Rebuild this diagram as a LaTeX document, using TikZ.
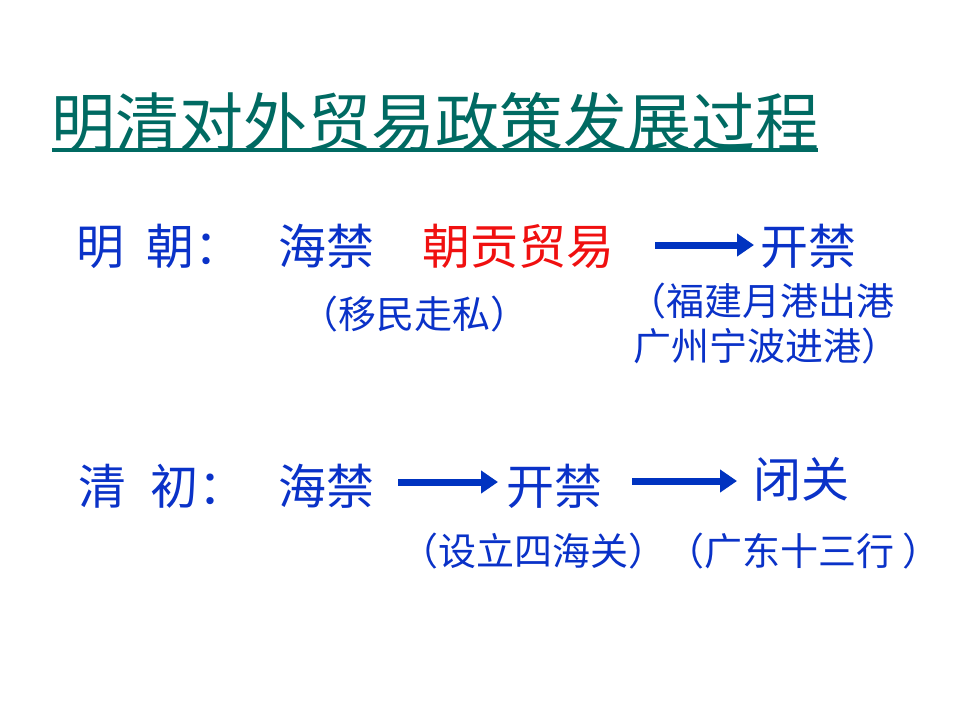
\documentclass[tikz,border=0pt]{standalone}
\usepackage{fontspec}
\newfontfamily\cjk{Noto Sans CJK SC}
\usetikzlibrary{arrows.meta}
\definecolor{titleC}{HTML}{006A62}
\definecolor{blueC}{HTML}{0A32C8}
\definecolor{redC}{HTML}{F01010}
\definecolor{arrC}{HTML}{0033C0}
\begin{document}
\begin{tikzpicture}[x=1pt,y=-1pt,
  ttl/.style={font=\cjk\fontsize{64}{70}\selectfont, text=titleC, inner sep=0, anchor=base west},
  big/.style={font=\cjk\fontsize{48}{52}\selectfont, text=blueC, inner sep=0, anchor=base west},
  small/.style={font=\cjk\fontsize{38}{42}\selectfont, text=blueC, inner sep=0, anchor=base west},
  arr/.style={draw=arrC, line width=7pt, -{Triangle[length=17pt,width=22pt]}}]
\useasboundingbox[fill=white] (0,0) rectangle (960,720);
% title
\node[ttl] (title) at (51,146) {明清对外贸易政策发展过程};
\draw[titleC, line width=4pt] (52,150) -- (818,150);
% Ming
\node[big] (ming1) at (76,264) {明};
\node[big] (ming2) at (146,264) {朝：};
\node[big] (hj1) at (278,264) {海禁};
\node[big, text=redC] (trib) at (422,264) {朝贡贸易};
\node[big] (kj1) at (760,264) {开禁};
\node[small] (ymzs) at (300,328) {（移民走私）};
\node[small] (fj1) at (628,315) {（福建月港出港};
\node[small] (fj2) at (633,360) {广州宁波进港）};
\coordinate (a1s) at (655,245);
\coordinate (a1e) at (754,245);
\draw[arr] (a1s) -- (a1e);
% Qing
\node[big] (qing1) at (78,504) {清};
\node[big] (qing2) at (150,504) {初：};
\node[big] (hj2) at (278,504) {海禁};
\node[big] (kj2) at (506,504) {开禁};
\node[big] (bg) at (753,497) {闭关};
\node[small] (sub2) at (400,565) {（设立四海关）（广东十三行 ）};
\coordinate (a2s) at (398,482);
\coordinate (a2e) at (498,482);
\coordinate (a3s) at (632,481);
\coordinate (a3e) at (737,481);
\draw[arr] (a2s) -- (a2e);
\draw[arr] (a3s) -- (a3e);
\end{tikzpicture}
\end{document}
